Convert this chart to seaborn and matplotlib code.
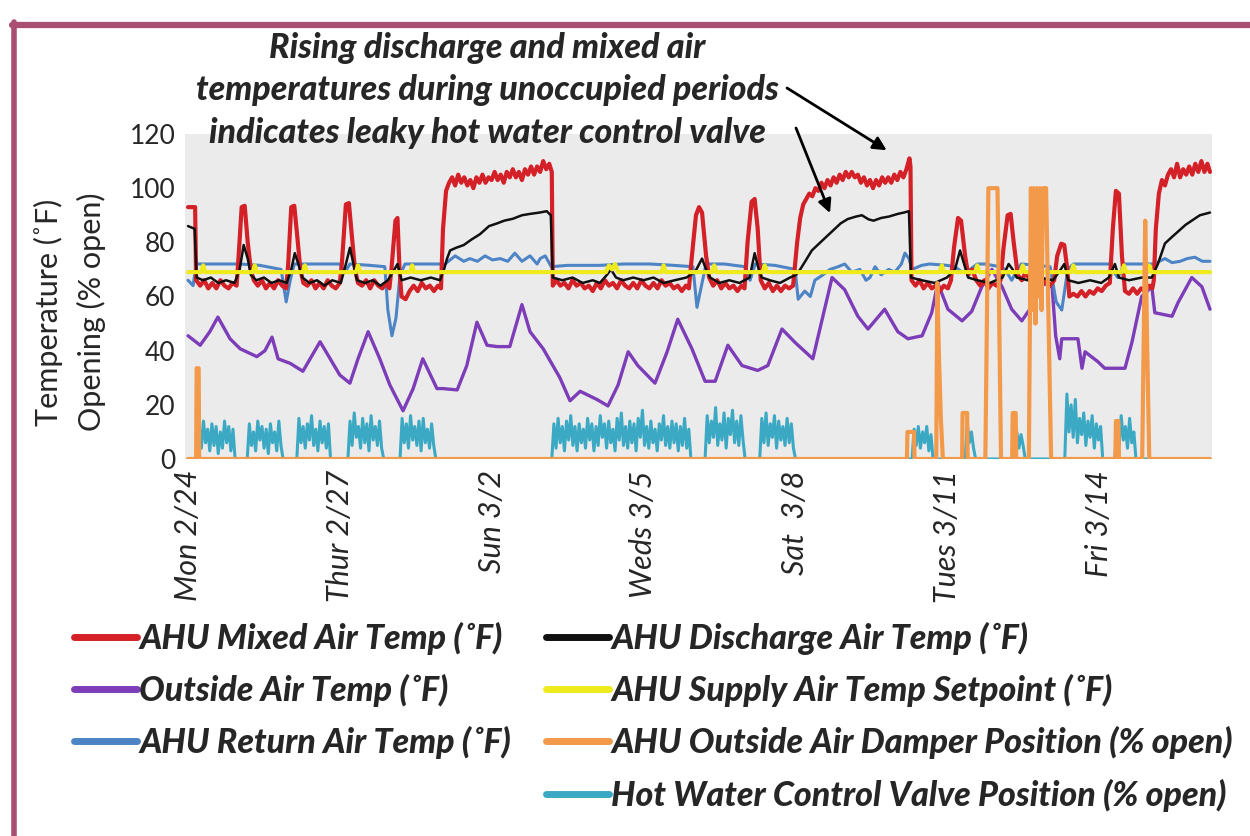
import numpy as np
import pandas as pd
import matplotlib
matplotlib.use('Agg')
import matplotlib.pyplot as plt
import seaborn as sns
from matplotlib.lines import Line2D
from matplotlib.font_manager import FontProperties

# x values are days since Mon 2/24 00:00, y values in deg F or % open

tick_days = [0, 3, 6, 9, 12, 15, 18]
tick_labels = ['Mon 2/24', 'Thur 2/27', 'Sun 3/2', 'Weds 3/5', 'Sat  3/8', 'Tues 3/11', 'Fri 3/14']

mixed_air = [
    (0.00, 93), (0.14, 93), (0.16, 66), (0.24, 64), (0.32, 66), (0.40, 63), (0.48, 65), (0.56, 63),
    (0.64, 66), (0.72, 64), (0.80, 63), (0.88, 65), (0.96, 64),
    (1.00, 75), (1.06, 93), (1.12, 93.5), (1.18, 80), (1.24, 70), (1.30, 66),
    (1.38, 64), (1.46, 66), (1.54, 63), (1.62, 65), (1.70, 63), (1.78, 66), (1.86, 64), (1.94, 63),
    (1.98, 72), (2.04, 93), (2.10, 93.5), (2.16, 82), (2.22, 70), (2.28, 65),
    (2.36, 64), (2.44, 66), (2.52, 63), (2.60, 65), (2.68, 63), (2.76, 66), (2.84, 64), (2.92, 63), (3.00, 65),
    (3.04, 72), (3.12, 94), (3.18, 94.5), (3.24, 82), (3.30, 70), (3.36, 65),
    (3.44, 64), (3.52, 66), (3.60, 63), (3.68, 66), (3.76, 64), (3.84, 63), (3.92, 65), (3.98, 63),
    (4.02, 70), (4.10, 88), (4.14, 89), (4.18, 70), (4.22, 60), (4.30, 59), (4.38, 62), (4.46, 64),
    (4.54, 62), (4.62, 65), (4.70, 63), (4.78, 64), (4.86, 62), (4.94, 64), (5.00, 63),
    (5.04, 85), (5.10, 99), (5.16, 102), (5.22, 104), (5.28, 101), (5.34, 105), (5.40, 102), (5.46, 104),
    (5.52, 101), (5.58, 103), (5.64, 100), (5.70, 104), (5.76, 102), (5.82, 105), (5.88, 102), (5.94, 104),
    (6.00, 103), (6.06, 106), (6.12, 103), (6.18, 105), (6.24, 102), (6.30, 106), (6.36, 104), (6.42, 107),
    (6.48, 104), (6.54, 106), (6.60, 103), (6.66, 107), (6.72, 105), (6.78, 108), (6.84, 105), (6.90, 108),
    (6.96, 106), (7.02, 110), (7.08, 107), (7.14, 109), (7.19, 106), (7.21, 64),
    (7.28, 66), (7.36, 64), (7.44, 65), (7.52, 63), (7.60, 66), (7.68, 64), (7.76, 65), (7.84, 63),
    (7.92, 64), (8.00, 62), (8.08, 65), (8.16, 63), (8.24, 66), (8.32, 64), (8.40, 65), (8.48, 63),
    (8.56, 66), (8.64, 64), (8.72, 63), (8.80, 65), (8.88, 63), (8.96, 66), (9.04, 64), (9.12, 63),
    (9.20, 65), (9.28, 63), (9.36, 66), (9.44, 64), (9.52, 65), (9.60, 63), (9.68, 64), (9.76, 62),
    (9.84, 64), (9.90, 63),
    (9.96, 75), (10.04, 90), (10.10, 93), (10.16, 91), (10.24, 75), (10.30, 67),
    (10.38, 64), (10.46, 66), (10.54, 63), (10.62, 65), (10.70, 63), (10.78, 64), (10.86, 62), (10.94, 64), (11.00, 63),
    (11.06, 80), (11.14, 95), (11.20, 96), (11.26, 85), (11.32, 66),
    (11.40, 63), (11.48, 65), (11.56, 62), (11.64, 64), (11.72, 62), (11.80, 64), (11.88, 63), (11.96, 64),
    (12.04, 80), (12.10, 89), (12.16, 94), (12.22, 96), (12.28, 98), (12.34, 97), (12.40, 100), (12.46, 99),
    (12.52, 102), (12.58, 100), (12.64, 103), (12.70, 101), (12.76, 104), (12.82, 102), (12.88, 105), (12.94, 103),
    (13.00, 106), (13.06, 104), (13.12, 106), (13.18, 104), (13.24, 105), (13.30, 102), (13.36, 104), (13.42, 101),
    (13.48, 103), (13.54, 100), (13.60, 103), (13.66, 101), (13.72, 104), (13.78, 102), (13.84, 104), (13.90, 102),
    (13.96, 105), (14.02, 103), (14.08, 106), (14.14, 104), (14.20, 107), (14.26, 111), (14.28, 108), (14.30, 66),
    (14.38, 64), (14.46, 66), (14.54, 63), (14.62, 65), (14.70, 63), (14.78, 64), (14.86, 62), (14.94, 64),
    (15.02, 63), (15.08, 66),
    (15.14, 78), (15.22, 89), (15.28, 88), (15.36, 75), (15.42, 68), (15.50, 70), (15.58, 66), (15.66, 64),
    (15.74, 66), (15.82, 63), (15.90, 65), (15.98, 64), (16.06, 66),
    (16.12, 78), (16.20, 90), (16.26, 90.5), (16.32, 80), (16.40, 68), (16.48, 66), (16.56, 69), (16.64, 66),
    (16.72, 70), (16.80, 66), (16.88, 64), (16.96, 66), (17.04, 64), (17.12, 66),
    (17.18, 75), (17.26, 79.5), (17.32, 79), (17.38, 70), (17.42, 60), (17.50, 61), (17.58, 60), (17.66, 62),
    (17.74, 60), (17.82, 62), (17.90, 61), (17.98, 63), (18.06, 62), (18.14, 64), (18.22, 65),
    (18.28, 85), (18.34, 99), (18.40, 98), (18.46, 75), (18.52, 62), (18.60, 61), (18.68, 63), (18.76, 61),
    (18.84, 63), (18.92, 62), (19.00, 64), (19.06, 63), (19.09, 66),
    (19.13, 85), (19.19, 98), (19.25, 103), (19.31, 101), (19.37, 105), (19.43, 107), (19.49, 104), (19.55, 109),
    (19.61, 104), (19.67, 107), (19.73, 105), (19.79, 108), (19.85, 105), (19.91, 109), (19.97, 106), (20.03, 110),
    (20.09, 106), (20.15, 109), (20.20, 106),
]

discharge_air = [
    (0.00, 86), (0.13, 85), (0.17, 67), (0.30, 66), (0.45, 67), (0.60, 65), (0.75, 66), (0.92, 65),
    (1.02, 70), (1.10, 79), (1.18, 74), (1.24, 68), (1.35, 66), (1.50, 67), (1.65, 65), (1.80, 66),
    (1.95, 65), (2.04, 70), (2.11, 76), (2.18, 72), (2.26, 67), (2.40, 65), (2.55, 66), (2.70, 64),
    (2.85, 66), (3.02, 65), (3.12, 72), (3.20, 78), (3.27, 72), (3.34, 66), (3.50, 65), (3.65, 66),
    (3.80, 64), (3.95, 66), (4.08, 70), (4.14, 72), (4.22, 66), (4.40, 67), (4.60, 66), (4.80, 67),
    (4.98, 66), (5.06, 70), (5.12, 74), (5.18, 77), (5.30, 78), (5.45, 79), (5.60, 81), (5.77, 83),
    (5.95, 86), (6.11, 87), (6.25, 88), (6.42, 88.7), (6.60, 90), (6.76, 90.5), (6.95, 91), (7.09, 91.5),
    (7.17, 90), (7.21, 67), (7.40, 66), (7.60, 67), (7.80, 65), (8.00, 66), (8.14, 65), (8.28, 68),
    (8.36, 70), (8.46, 67), (8.60, 66), (8.80, 67), (9.00, 66), (9.20, 67), (9.40, 65), (9.62, 66),
    (9.85, 67), (10.02, 69), (10.16, 74), (10.24, 70), (10.32, 67), (10.50, 65), (10.70, 66), (10.90, 65),
    (11.10, 67), (11.20, 76), (11.28, 70), (11.34, 67), (11.50, 66), (11.70, 65), (11.90, 67), (12.02, 68),
    (12.10, 70), (12.20, 73), (12.33, 77), (12.50, 80), (12.73, 84), (12.90, 87), (13.04, 88.6), (13.20, 89.5),
    (13.32, 90), (13.45, 88.5), (13.55, 88), (13.70, 89), (13.85, 89.5), (14.03, 90.5), (14.15, 91), (14.25, 91.5),
    (14.29, 67), (14.50, 66), (14.76, 65), (15.00, 67), (15.16, 70), (15.26, 77), (15.34, 72), (15.42, 67),
    (15.60, 66), (15.85, 65), (16.10, 67), (16.22, 72), (16.30, 70), (16.38, 67), (16.60, 66), (16.84, 67),
    (17.10, 66), (17.25, 70), (17.32, 72), (17.40, 66), (17.60, 65), (17.83, 66), (18.05, 65), (18.20, 67),
    (18.32, 72), (18.40, 67), (18.60, 66), (18.85, 67), (19.05, 67), (19.17, 72), (19.31, 79.6), (19.45, 82),
    (19.57, 84), (19.72, 86.5), (19.84, 88), (20.00, 90), (20.20, 91),
]

outside_air = [
    (0.00, 45.5), (0.24, 42), (0.43, 47), (0.59, 52.4), (0.83, 44.4), (1.03, 40.7), (1.36, 37.8), (1.52, 40),
    (1.66, 45), (1.78, 37), (2.02, 35.3), (2.27, 32.4), (2.61, 43.3), (2.81, 37), (3.00, 31), (3.20, 28),
    (3.36, 37), (3.56, 47), (3.79, 37), (3.99, 27.3), (4.25, 17.8), (4.45, 26), (4.64, 37), (4.92, 26),
    (5.04, 26), (5.32, 25.5), (5.51, 34.5), (5.71, 50.5), (5.91, 42), (6.11, 41.5), (6.36, 41.5), (6.60, 57),
    (6.76, 47), (7.02, 40.7), (7.35, 30), (7.55, 21.5), (7.75, 25), (8.08, 22), (8.30, 19.6), (8.50, 27.3),
    (8.70, 39.6), (8.89, 34.5), (9.23, 28), (9.47, 39.6), (9.68, 51.6), (9.96, 40.7), (10.22, 28.7), (10.42, 28.7),
    (10.67, 42), (10.95, 34.5), (11.26, 32.7), (11.46, 34.5), (11.74, 48), (12.00, 43), (12.35, 37), (12.73, 67),
    (12.98, 62.5), (13.24, 52.7), (13.44, 48), (13.77, 55.3), (14.03, 47), (14.23, 44.4), (14.51, 45.5), (14.70, 54),
    (14.82, 65), (15.02, 55.3), (15.30, 51), (15.49, 54.5), (15.69, 63.6), (15.89, 70), (16.09, 63.6), (16.28, 55.3),
    (16.48, 51), (16.68, 56.4), (16.88, 65), (17.08, 63.6), (17.15, 45.5), (17.23, 37), (17.27, 44.4), (17.59, 44.4),
    (17.67, 33.5), (17.73, 39.6), (17.98, 36), (18.12, 33.5), (18.52, 33.5), (18.66, 43.3), (18.85, 60), (19.05, 63.6),
    (19.11, 54), (19.45, 52.7), (19.57, 57.8), (19.84, 67), (20.04, 63.6), (20.20, 55.3),
]

setpoint = [
    (0.00, 69), (0.26, 69), (0.30, 71.5), (0.34, 69), (1.28, 69), (1.32, 71.5), (1.36, 69),
    (2.27, 69), (2.31, 71.5), (2.35, 69), (3.32, 69), (3.36, 71.5), (3.40, 69), (4.39, 69), (4.43, 71.5), (4.47, 69),
    (8.26, 69), (8.32, 71.5), (8.38, 70), (8.44, 72), (8.50, 69), (9.36, 69), (9.40, 71.5), (9.44, 69),
    (10.36, 69), (10.40, 71.5), (10.44, 69), (11.36, 69), (11.40, 71.5), (11.44, 69),
    (14.86, 69), (14.90, 71.5), (14.94, 69), (15.56, 69), (15.60, 71.5), (15.64, 69),
    (16.46, 69), (16.50, 71.5), (16.54, 69), (17.46, 69), (17.50, 71.5), (17.54, 69),
    (18.46, 69), (18.50, 71.5), (18.54, 69), (18.96, 69), (19.00, 71.5), (19.04, 69), (20.20, 69),
]

return_air = [
    (0.00, 66), (0.10, 64), (0.16, 72), (0.50, 72), (1.03, 72), (1.42, 71.5), (1.84, 70), (1.94, 58),
    (2.02, 66), (2.10, 72), (2.60, 72), (3.00, 72), (3.10, 69), (3.20, 72), (3.60, 71.5), (3.89, 71),
    (3.95, 55), (4.03, 45.5), (4.11, 52), (4.19, 68), (4.29, 72), (4.70, 72), (5.08, 72), (5.28, 75),
    (5.45, 73), (5.57, 74), (5.72, 73), (5.87, 75), (6.02, 73.5), (6.17, 74), (6.32, 73), (6.46, 76),
    (6.60, 73), (6.76, 75), (6.90, 72), (6.96, 74), (7.06, 75), (7.18, 71), (7.50, 71.5), (8.14, 71.5),
    (8.60, 72), (9.13, 72), (9.60, 71.5), (9.98, 71), (10.06, 56), (10.16, 65), (10.24, 72), (10.60, 72),
    (11.01, 71), (11.11, 66), (11.21, 72), (11.60, 71.5), (12.00, 70), (12.06, 59), (12.19, 62), (12.30, 60),
    (12.39, 66), (12.55, 68), (12.69, 70), (12.85, 71), (12.98, 72), (13.12, 69), (13.28, 70), (13.40, 66),
    (13.48, 67), (13.58, 71), (13.70, 68), (13.85, 70), (13.97, 69), (14.10, 72), (14.17, 76), (14.25, 74),
    (14.31, 70), (14.50, 71.5), (14.66, 72), (15.00, 71.5), (15.16, 71), (15.30, 69), (15.46, 70), (15.60, 72),
    (15.75, 72), (16.05, 71), (16.15, 70), (16.28, 66), (16.40, 70), (16.47, 72), (16.80, 71.5), (17.04, 71),
    (17.16, 58), (17.27, 55), (17.39, 70), (17.50, 72), (17.90, 72), (18.22, 72), (18.30, 69), (18.38, 67),
    (18.46, 70), (18.50, 72), (18.85, 72), (19.11, 72), (19.20, 73), (19.31, 74), (19.45, 72.5), (19.61, 73),
    (19.75, 74), (19.90, 74.5), (20.05, 73), (20.20, 73),
]

damper = [
    (0.00, 0), (0.16, 0), (0.17, 33.5), (0.21, 33.5), (0.22, 0),
    (14.21, 0), (14.22, 10), (14.35, 10), (14.36, 0),
    (14.79, 0), (14.81, 65), (14.84, 40), (14.88, 15), (14.92, 0),
    (15.30, 0), (15.31, 17), (15.40, 17), (15.41, 0),
    (15.76, 0), (15.82, 100), (16.00, 100), (16.07, 0),
    (16.29, 0), (16.30, 17), (16.36, 17), (16.37, 0),
    (16.62, 0), (16.66, 100), (16.69, 55), (16.72, 100), (16.75, 50), (16.78, 100), (16.81, 60),
    (16.84, 100), (16.87, 55), (16.90, 100), (16.96, 100), (17.06, 0),
    (18.33, 0), (18.34, 14), (18.39, 14), (18.40, 0),
    (18.86, 0), (18.92, 88), (18.96, 40), (19.00, 0), (20.20, 0),
]

# hot water valve: hourly readings for each stretch where the valve is open
hw_starts = [0.18, 1.17, 2.15, 3.16, 4.19, 7.19, 10.22, 11.30, 14.31, 15.36, 16.34, 17.33, 18.32]
hw_chunks = [
    [0, 12, 4, 14, 6, 11, 3, 13, 5, 12, 2, 10, 4, 14, 6, 12, 3, 11, 0],
    [0, 13, 5, 10, 3, 14, 7, 12, 4, 11, 2, 13, 6, 10, 3, 14, 5, 0],
    [0, 15, 6, 12, 4, 13, 7, 16, 5, 11, 3, 14, 6, 12, 4, 13, 0],
    [0, 14, 5, 17, 8, 12, 4, 15, 6, 13, 3, 16, 7, 12, 5, 14, 4, 0],
    [0, 15, 6, 13, 4, 16, 7, 12, 5, 14, 3, 15, 6, 11, 4, 13, 5, 0],
    [0, 13, 4, 15, 6, 12, 3, 14, 7, 16, 5, 12, 3, 13, 6, 11, 4, 15, 7, 13,
     3, 12, 5, 16, 8, 13, 4, 14, 6, 11, 3, 15, 7, 17, 5, 12, 4, 14, 6, 13,
     3, 15, 8, 18, 5, 12, 4, 14, 6, 11, 3, 13, 7, 16, 5, 12, 4, 14, 6, 13,
     3, 12, 5, 15, 4, 11, 0],
    [0, 16, 6, 14, 8, 19, 5, 13, 7, 17, 4, 15, 9, 18, 6, 14, 5, 16, 7, 0],
    [0, 15, 6, 17, 5, 13, 8, 16, 4, 14, 7, 12, 5, 15, 6, 13, 4, 0],
    [0, 11, 5, 12, 4, 10, 6, 12, 3, 9, 0],
    [0, 13, 6, 10, 4, 0],
    [0, 10, 4, 9, 5, 0],
    [0, 24, 10, 20, 8, 22, 6, 15, 9, 17, 5, 14, 8, 16, 4, 13, 7, 12, 0],
    [0, 14, 5, 16, 7, 12, 4, 15, 6, 10, 0],
]

hot_water = [(0.0, 0)]
for start, vals in zip(hw_starts, hw_chunks):
    for i, v in enumerate(vals):
        hot_water.append((start + i / 24, v))
hot_water.append((20.2, 0))

# ---- plot ----
sns.set_theme(style='white')
plt.rcParams['font.family'] = ['Lato', 'DejaVu Sans']
bold_it = FontProperties(family=['Lato', 'DejaVu Sans'], weight=900, style='italic', size=24.5)

W, H = 1250, 836
fig = plt.figure(figsize=(W / 100, H / 100), dpi=100)
ax = fig.add_axes([185 / W, 1 - 459 / H, (1212 - 185) / W, (459 - 134) / H])
ax.set_facecolor('#EBEBEB')

series = [
    ('AHU Mixed Air Temp (˚F)', mixed_air, '#D42027', 3.0, 3),
    ('AHU Discharge Air Temp (˚F)', discharge_air, '#111111', 1.8, 4),
    ('Outside Air Temp (˚F)', outside_air, '#7D3CB8', 2.4, 2),
    ('AHU Supply Air Temp Setpoint (˚F)', setpoint, '#EEEA1C', 3.0, 5),
    ('AHU Return Air Temp (˚F)', return_air, '#4C84C6', 2.2, 2.5),
    ('AHU Outside Air Damper Position (% open)', damper, '#F2994A', 3.0, 7),
    ('Hot Water Control Valve Position (% open)', hot_water, '#3CA9C4', 2.2, 6),
]

handles = {}
for label, pts, color, lw, z in series:
    df = pd.DataFrame(pts, columns=['day', 'value'])
    sns.lineplot(data=df, x='day', y='value', color=color, linewidth=lw,
                 estimator=None, sort=False, ax=ax, zorder=z)
    handles[label] = Line2D([], [], color=color, linewidth=5)

ax.set_xlim(-0.06, 20.24)
ax.set_ylim(0, 120)
ax.set_yticks(range(0, 121, 20))
ax.set_xticks(tick_days)
ax.set_xticklabels(tick_labels, rotation=90, fontstyle='italic', fontsize=22, va='top', ha='center')
ax.tick_params(axis='y', labelsize=19, length=0, pad=7)
ax.tick_params(axis='x', length=0, pad=8)
ax.set_xlabel('')
ax.set_ylabel('')
for s in ax.spines.values():
    s.set_visible(False)

fig.text(48 / W, 1 - 312 / H, 'Temperature (˚F)', rotation=90, ha='center', va='center', fontsize=22)
fig.text(91 / W, 1 - 312 / H, 'Opening (% open)', rotation=90, ha='center', va='center', fontsize=22)

# annotation
note = ['Rising discharge and mixed air',
        'temperatures during unoccupied periods',
        'indicates leaky hot water control valve']
for line, yp in zip(note, [48, 90, 133]):
    fig.text(487 / W, 1 - yp / H, line, ha='center', va='center', fontproperties=bold_it, zorder=10)

arrow = dict(arrowstyle='-|>', color='black', lw=2, mutation_scale=20, shrinkA=0, shrinkB=0)
ax.annotate('', xy=(13.81, 114), xycoords='data', xytext=(787 / W, 1 - 88 / H),
            textcoords='figure fraction', arrowprops=arrow, annotation_clip=False)
ax.annotate('', xy=(12.69, 90.8), xycoords='data', xytext=(796 / W, 1 - 128 / H),
            textcoords='figure fraction', arrowprops=arrow, annotation_clip=False)

# legend in two columns
col1 = ['AHU Mixed Air Temp (˚F)', 'Outside Air Temp (˚F)', 'AHU Return Air Temp (˚F)']
col2 = ['AHU Discharge Air Temp (˚F)', 'AHU Supply Air Temp Setpoint (˚F)',
        'AHU Outside Air Damper Position (% open)', 'Hot Water Control Valve Position (% open)']
for labels, xpos in [(col1, 74), (col2, 546)]:
    fig.legend([handles[l] for l in labels], labels, loc='upper left',
               bbox_to_anchor=(xpos / W, 1 - 622 / H), frameon=False, prop=bold_it,
               handlelength=1.85, handletextpad=0.07, labelspacing=0.56,
               borderpad=0, borderaxespad=0)

# maroon frame
frame = '#A94F72'
fig.add_artist(Line2D([12 / W, 1], [1 - 24.5 / H, 1 - 24.5 / H], color=frame, lw=4.5, transform=fig.transFigure))
fig.add_artist(Line2D([14.5 / W, 14.5 / W], [0, 1 - 22 / H], color=frame, lw=4, transform=fig.transFigure))

fig.savefig('out.png', dpi=100)
